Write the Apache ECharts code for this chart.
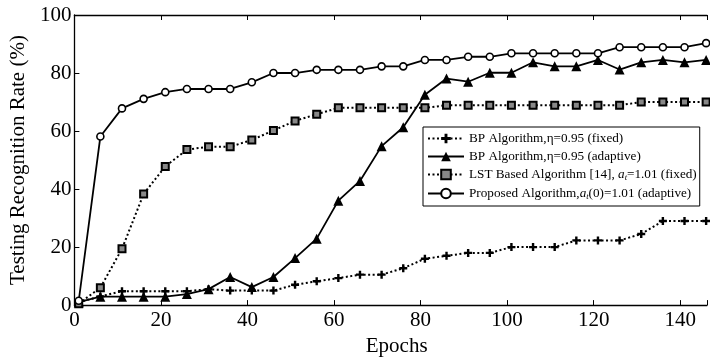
<!DOCTYPE html>
<html>
<head>
<meta charset="utf-8">
<script src="https://cdn.jsdelivr.net/npm/echarts@6/dist/echarts.min.js"></script>
<style>html,body{margin:0;padding:0;background:#fff}#c{width:710px;height:362px}</style>
</head>
<body>
<div id="c"></div>
<script>
const epochs = [1,6,11,16,21,26,31,36,41,46,51,56,61,66,71,76,81,86,91,96,101,106,111,116,121,126,131,136,141,146];
const bpFixed = [1,3,4.8,4.8,4.8,4.8,5.5,5,5,5,7,8.2,9.3,10.5,10.5,12.7,16,17,18,18,20,20,20,22.3,22.3,22.3,24.5,29,29,29];
const bpAdaptive = [1,2.9,2.9,2.9,2.9,3.8,5.5,9.7,6.2,9.7,16.2,22.9,36,42.8,54.8,61.3,72.5,78.1,77,80.1,80.1,83.7,82.3,82.3,84.5,81.2,83.7,84.5,83.7,84.5];
const lstFixed = [0.5,6,19.4,38.3,47.8,53.6,54.6,54.6,56.9,60.2,63.5,65.8,68,68,68,68,68,68.9,68.9,68.9,68.9,68.9,68.9,68.9,68.9,68.9,70,70,70,70];
const proposed = [1.5,58.1,67.8,71.1,73.4,74.5,74.5,74.5,76.8,80,80,81.1,81.1,81.1,82.3,82.3,84.5,84.5,85.6,85.6,86.8,86.8,86.8,86.8,86.8,88.9,88.9,88.9,88.9,90.3];
const xTicks = [0,20,40,60,80,100,120,140];
const yTicks = [0,20,40,60,80,100];
const seriesNames = ['bpf','bpa','lst','prop'];

const FONT = 'Liberation Serif';
const pair = arr => epochs.map((e,i)=>[e,arr[i]]);
const plusPath = 'path://M3.5,0h3v3.5h3.5v3h-3.5v3.5h-3v-3.5h-3.5v-3h3.5z';

const chart = echarts.init(document.getElementById('c'), null, {renderer:'canvas'});
const axisCommon = {
  axisLine:{show:true, lineStyle:{color:'#000', width:1.3}},
  axisTick:{show:true, inside:true, length:5, lineStyle:{color:'#000', width:1}},
  splitLine:{show:false}
};
chart.setOption({
  backgroundColor:'#fff',
  animation:false,
  grid:{left:74, top:15, right:0, bottom:50},
  xAxis:[
    Object.assign({type:'value', min:0, max:146.2, interval:20, position:'bottom',
      name:'Epochs', nameLocation:'middle', nameGap:30,
      nameTextStyle:{fontFamily:FONT, fontSize:21, color:'#000', padding:[0,0,0,12]},
      axisLabel:{fontFamily:FONT, fontSize:21, color:'#000', margin:5,
        formatter:v=> xTicks.indexOf(v)>=0 ? String(v) : ''}
    }, axisCommon),
    Object.assign({type:'value', min:0, max:146.2, interval:20, position:'top',
      axisLabel:{show:false}}, axisCommon)
  ],
  yAxis:[
    Object.assign({type:'value', min:0, max:100, interval:20,
      name:'Testing Recognition Rate (%)', nameLocation:'middle', nameGap:38,
      nameTextStyle:{fontFamily:FONT, fontSize:21, color:'#000'},
      axisLabel:{fontFamily:FONT, fontSize:21, color:'#000', margin:3,
        formatter:v=> yTicks.indexOf(v)>=0 ? String(v) : ''}
    }, axisCommon)
  ],
  legend:{
    orient:'vertical', left:423, top:127,
    backgroundColor:'#fff', borderColor:'#000', borderWidth:1,
    padding:[5,3,5,4], itemGap:5, itemWidth:36, itemHeight:12,
    data:seriesNames,
    textStyle:{fontFamily:FONT, fontSize:13.2, color:'#000',
      rich:{
        n:{fontFamily:FONT, fontSize:13.2, color:'#000'},
        it:{fontFamily:FONT, fontSize:13.2, fontStyle:'italic', color:'#000'},
        sub:{fontFamily:FONT, fontSize:8.5, fontStyle:'italic', color:'#000', padding:[6,0,0,0]}
      }},
    formatter:function(name){
      if(name==='bpf') return '{n|BP Algorithm,η=0.95 (fixed)}';
      if(name==='bpa') return '{n|BP Algorithm,η=0.95 (adaptive)}';
      if(name==='lst') return '{n|LST Based Algorithm [14], }{it|a}{sub|t}{n|=1.01 (fixed)}';
      return '{n|Proposed Algorithm,}{it|a}{sub|t}{n|(0)=1.01 (adaptive)}';
    }
  },
  series:[
    {name:'bpf', type:'line', data:pair(bpFixed), symbol:plusPath, symbolSize:8,
      lineStyle:{color:'#000', width:2, type:[2,2.5]}, itemStyle:{color:'#000', borderWidth:0}, z:3},
    {name:'bpa', type:'line', data:pair(bpAdaptive), symbol:'triangle', symbolSize:10,
      lineStyle:{color:'#000', width:1.8, type:'solid'}, itemStyle:{color:'#000', borderWidth:0}, z:4},
    {name:'lst', type:'line', data:pair(lstFixed), symbol:'rect', symbolSize:7,
      lineStyle:{color:'#000', width:2, type:[2,2.5]}, itemStyle:{color:'#888', borderColor:'#000', borderWidth:2}, z:5},
    {name:'prop', type:'line', data:pair(proposed), symbol:'circle', symbolSize:7,
      lineStyle:{color:'#000', width:1.8, type:'solid'}, itemStyle:{color:'#fff', borderColor:'#000', borderWidth:1.6}, z:6}
  ]
});
</script>
</body>
</html>
